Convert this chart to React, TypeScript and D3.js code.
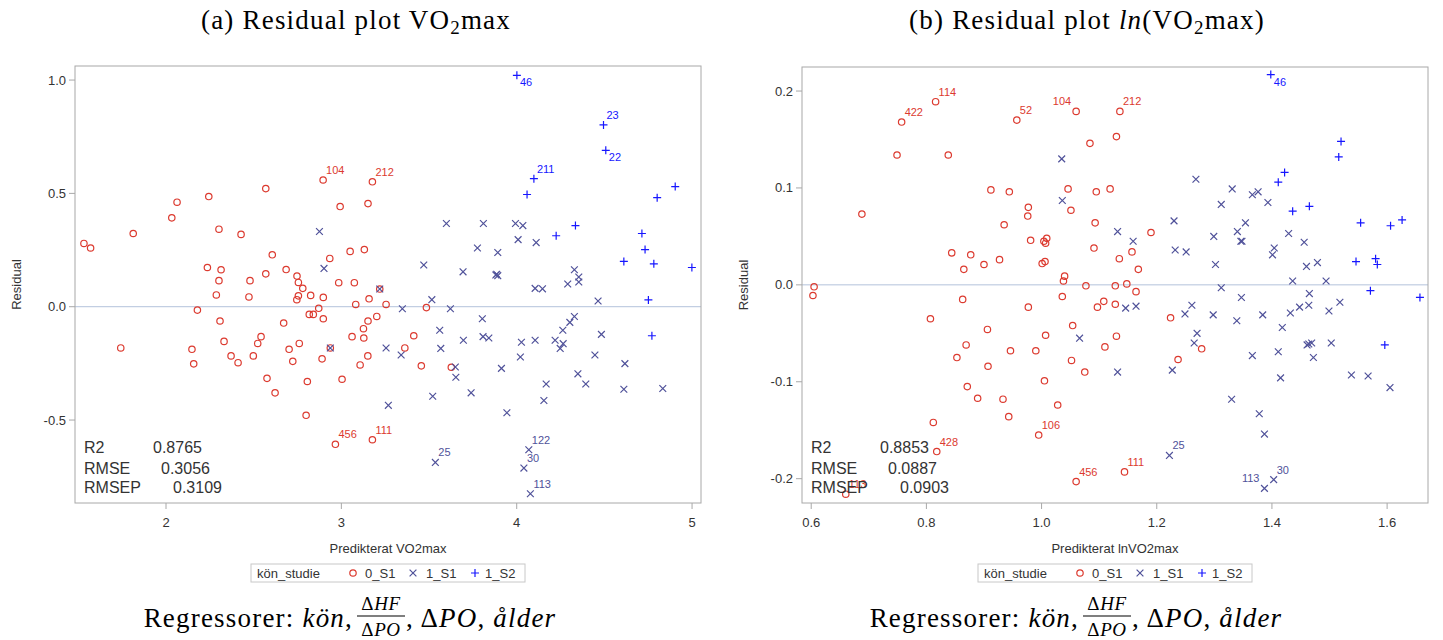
import React from "react";
import * as d3 from "d3";

// Predicted value vs. residual, one array per kön_studie group.
// Panel (a): VO2max
const vo2_0S1: [number, number][] = [
  [1.532, 0.279], [1.57, 0.259], [1.813, 0.323], [2.033, 0.392], [2.063, 0.461], [2.244, 0.486],
  [2.302, 0.342], [2.428, 0.319], [2.569, 0.521], [2.896, 0.559], [3.177, 0.551], [2.993, 0.442],
  [3.152, 0.455], [2.606, 0.229], [2.934, 0.213], [3.05, 0.244], [3.131, 0.252], [2.236, 0.173],
  [2.314, 0.163], [2.302, 0.115], [2.479, 0.115], [2.569, 0.145], [2.685, 0.164], [2.747, 0.135],
  [2.755, 0.107], [2.78, 0.081], [2.985, 0.106], [3.074, 0.106], [3.219, 0.078], [2.287, 0.052],
  [2.473, 0.043], [2.755, 0.048], [2.746, 0.031], [2.825, 0.05], [2.897, 0.041], [3.082, 0.01],
  [3.158, 0.035], [3.255, 0.01], [2.179, -0.015], [2.308, -0.063], [2.671, -0.072], [2.817, -0.034],
  [2.84, -0.034], [2.871, -0.007], [2.897, -0.053], [3.152, -0.063], [3.202, -0.043], [3.126, -0.097],
  [3.061, -0.132], [3.128, -0.138], [1.742, -0.182], [2.148, -0.188], [2.158, -0.252], [2.331, -0.153],
  [2.542, -0.132], [2.523, -0.162], [2.371, -0.217], [2.411, -0.247], [2.498, -0.217], [2.702, -0.188],
  [2.76, -0.162], [2.723, -0.241], [2.89, -0.23], [2.937, -0.182], [3.151, -0.217], [3.107, -0.257],
  [2.576, -0.316], [2.622, -0.38], [2.806, -0.33], [3.004, -0.32], [2.799, -0.479], [2.966, -0.607],
  [3.177, -0.587], [3.485, -0.004], [3.413, -0.128], [3.362, -0.182], [3.456, -0.261], [3.627, -0.267],
];
const vo2_1S1: [number, number][] = [
  [2.875, 0.332], [2.901, 0.169], [3.219, 0.078], [2.937, -0.182], [3.255, -0.182], [3.268, -0.435],
  [3.516, 0.031], [3.348, -0.009], [3.622, -0.009], [3.804, -0.053], [3.561, -0.104], [3.696, -0.148],
  [3.808, -0.132], [3.841, -0.138], [3.341, -0.213], [3.567, -0.184], [3.65, -0.266], [3.653, -0.311],
  [3.521, -0.395], [3.74, -0.38], [3.913, -0.272], [4.027, -0.157], [4.021, -0.222], [4.105, -0.148],
  [3.944, -0.468], [4.168, -0.341], [4.155, -0.414], [4.219, -0.148], [4.248, -0.184], [4.265, -0.163],
  [4.263, -0.104], [4.303, -0.069], [4.329, -0.043], [4.483, -0.122], [4.446, -0.213], [4.349, -0.296],
  [4.394, -0.341], [4.617, -0.251], [4.611, -0.364], [4.833, -0.361], [4.464, 0.025], [4.105, 0.081],
  [4.147, 0.079], [4.291, 0.1], [4.354, 0.109], [4.069, -0.631], [3.536, -0.687], [4.041, -0.712],
  [4.078, -0.825], [3.599, 0.367], [3.81, 0.367], [3.993, 0.367], [4.035, 0.358], [4.008, 0.296],
  [4.111, 0.283], [3.776, 0.259], [3.892, 0.239], [3.47, 0.184], [3.694, 0.154], [3.881, 0.14],
  [3.892, 0.137], [3.886, 0.143], [4.329, 0.163], [4.354, 0.131],
];
const vo2_1S2: [number, number][] = [
  [4.001, 1.021], [4.495, 0.802], [4.508, 0.69], [4.098, 0.565], [4.059, 0.495], [4.904, 0.53],
  [4.801, 0.481], [4.335, 0.358], [4.225, 0.313], [4.714, 0.323], [4.732, 0.252], [4.782, 0.189],
  [4.611, 0.2], [4.999, 0.173], [4.751, 0.03], [4.771, -0.128],
];

// Panel (b): ln(VO2max)
const ln_0S1: [number, number][] = [
  [0.816, 0.189], [0.757, 0.168], [0.957, 0.17], [1.06, 0.179], [0.749, 0.134], [0.838, 0.134],
  [1.084, 0.146], [0.688, 0.073], [0.912, 0.098], [0.944, 0.096], [1.046, 0.099], [1.095, 0.096],
  [1.119, 0.099], [0.977, 0.08], [0.976, 0.071], [1.051, 0.077], [0.935, 0.062], [1.093, 0.064],
  [0.981, 0.046], [1.004, 0.045], [1.009, 0.048], [1.007, 0.043], [1.091, 0.038], [0.844, 0.033],
  [0.877, 0.031], [0.927, 0.026], [0.9, 0.021], [0.865, 0.016], [1.001, 0.022], [1.006, 0.024],
  [1.04, 0.009], [1.038, 0.004], [1.077, -0.001], [0.605, -0.002], [0.603, -0.011], [0.863, -0.015],
  [1.036, -0.012], [1.108, -0.017], [1.097, -0.023], [0.977, -0.023], [0.807, -0.035], [0.906, -0.046],
  [1.054, -0.042], [0.869, -0.062], [1.007, -0.052], [0.853, -0.075], [0.946, -0.068], [0.99, -0.068],
  [1.11, -0.064], [0.907, -0.084], [1.052, -0.078], [1.075, -0.09], [0.871, -0.105], [1.005, -0.099],
  [0.889, -0.117], [0.933, -0.118], [1.028, -0.124], [0.943, -0.136], [0.812, -0.142], [0.995, -0.155],
  [0.818, -0.172], [1.06, -0.203], [0.66, -0.216], [1.136, 0.179], [1.13, 0.153], [1.19, 0.054],
  [1.135, 0.027], [1.157, 0.034], [1.168, 0.016], [1.128, -0.001], [1.148, 0.001], [1.164, -0.007],
  [1.128, -0.02], [1.224, -0.034], [1.13, -0.053], [1.278, -0.066], [1.237, -0.077], [1.144, -0.193],
];
const ln_1S1: [number, number][] = [
  [1.035, 0.13], [1.036, 0.087], [1.066, -0.055], [1.268, 0.109], [1.331, 0.099], [1.312, 0.083],
  [1.366, 0.093], [1.376, 0.096], [1.393, 0.085], [1.23, 0.066], [1.132, 0.055], [1.159, 0.045],
  [1.354, 0.064], [1.34, 0.055], [1.346, 0.045], [1.348, 0.045], [1.299, 0.05], [1.232, 0.036],
  [1.251, 0.034], [1.429, 0.053], [1.456, 0.044], [1.404, 0.038], [1.401, 0.031], [1.302, 0.021],
  [1.46, 0.019], [1.479, 0.023], [1.436, 0.004], [1.494, 0.004], [1.312, -0.003], [1.347, -0.013],
  [1.146, -0.024], [1.164, -0.022], [1.261, -0.021], [1.249, -0.03], [1.298, -0.031], [1.339, -0.037],
  [1.384, -0.031], [1.432, -0.029], [1.448, -0.023], [1.464, -0.021], [1.465, -0.009], [1.499, -0.027],
  [1.518, -0.018], [1.418, -0.044], [1.27, -0.05], [1.265, -0.06], [1.366, -0.073], [1.411, -0.069],
  [1.461, -0.062], [1.469, -0.06], [1.464, -0.061], [1.472, -0.075], [1.503, -0.06], [1.132, -0.09],
  [1.227, -0.088], [1.415, -0.096], [1.538, -0.093], [1.567, -0.094], [1.605, -0.106], [1.33, -0.118],
  [1.378, -0.133], [1.387, -0.154], [1.222, -0.176], [1.403, -0.201], [1.387, -0.21],
];
const ln_1S2: [number, number][] = [
  [1.398, 0.217], [1.52, 0.148], [1.516, 0.132], [1.422, 0.116], [1.411, 0.106], [1.436, 0.076],
  [1.465, 0.081], [1.554, 0.064], [1.606, 0.061], [1.626, 0.067], [1.546, 0.024], [1.58, 0.027],
  [1.583, 0.021], [1.571, -0.006], [1.657, -0.013], [1.596, -0.062],
];

// Tick values
const vo2XTicks = [2, 3, 4, 5];
const vo2YTicks = [-0.5, 0, 0.5, 1.0];
const lnXTicks = [0.6, 0.8, 1.0, 1.2, 1.4, 1.6];
const lnYTicks = [-0.2, -0.1, 0, 0.1, 0.2];

// Fit statistics shown in the inset
const vo2Stats: [string, string][] = [["R2", "0.8765"], ["RMSE", "0.3056"], ["RMSEP", "0.3109"]];
const lnStats: [string, string][] = [["R2", "0.8853"], ["RMSE", "0.0887"], ["RMSEP", "0.0903"]];

// Labelled observations: [group, index in that group's array, observation id]
const vo2Ids: [string, number, string][] = [
  ["0_S1", 9, "104"], ["0_S1", 10, "212"], ["0_S1", 71, "456"], ["0_S1", 72, "111"],
  ["1_S1", 45, "122"], ["1_S1", 46, "25"], ["1_S1", 47, "30"], ["1_S1", 48, "113"],
  ["1_S2", 0, "46"], ["1_S2", 1, "23"], ["1_S2", 2, "22"], ["1_S2", 3, "211"],
];
const lnIds: [string, number, string][] = [
  ["0_S1", 0, "114"], ["0_S1", 1, "422"], ["0_S1", 2, "52"], ["0_S1", 3, "104"],
  ["0_S1", 59, "106"], ["0_S1", 60, "428"], ["0_S1", 61, "456"], ["0_S1", 62, "113"],
  ["0_S1", 63, "212"], ["0_S1", 77, "111"],
  ["1_S1", 62, "25"], ["1_S1", 63, "30"], ["1_S1", 64, "113"],
  ["1_S2", 0, "46"],
];

const groups = ["0_S1", "1_S1", "1_S2"];

// ---- styling ----
const SANS = "'Liberation Sans', Arial, sans-serif";
const SERIF = "'Liberation Serif', 'Times New Roman', serif";
const groupColor: Record<string, string> = { "0_S1": "#dc3a2f", "1_S1": "#50529a", "1_S2": "#1616ff" };
const FRAME = "#a8a8a8";
const TEXT = "#333333";

// label placement around the marker: ne (default), se, nw
const labelSide: Record<string, string> = {
  "a:1_S2:46": "se", "a:1_S2:22": "se",
  "b:1_S2:46": "se", "b:0_S1:104": "nw", "b:1_S1:113": "nw",
};

function Marker({ group, x, y }: { group: string; x: number; y: number }) {
  const c = groupColor[group];
  if (group === "0_S1") {
    return <circle cx={x} cy={y} r={3.2} fill="none" stroke={c} strokeWidth={1.2} />;
  }
  if (group === "1_S1") {
    const h = 3.4;
    return (
      <path d={`M${x - h},${y - h}L${x + h},${y + h}M${x - h},${y + h}L${x + h},${y - h}`} stroke={c} strokeWidth={1.2} />
    );
  }
  const h = 4;
  return <path d={`M${x - h},${y}L${x + h},${y}M${x},${y - h}L${x},${y + h}`} stroke={c} strokeWidth={1.2} />;
}

type PanelProps = {
  id: string;
  frame: { x0: number; y0: number; x1: number; y1: number };
  xDomain: [number, number];
  yDomain: [number, number];
  xTicks: number[];
  yTicks: number[];
  xFmt: (v: number) => string;
  series: Record<string, [number, number][]>;
  ids: [string, number, string][];
  stats: [string, string][];
  xLabel: string;
};

function Panel(p: PanelProps) {
  const { x0, y0, x1, y1 } = p.frame;
  const x = d3.scaleLinear().domain(p.xDomain).range([x0, x1]);
  const y = d3.scaleLinear().domain(p.yDomain).range([y1, y0]);
  const cx = (x0 + x1) / 2;
  const cy = (y0 + y1) / 2;
  const statValX = [78, 86, 98];
  const statBase = [-50, -29, -10];
  const legL = cx - 137;
  const legT = 564;
  return (
    <g>
      {/* zero reference */}
      <line x1={x0} x2={x1} y1={y(0)} y2={y(0)} stroke="#b3c2db" strokeWidth={1} />
      {/* points */}
      {groups.map((g) =>
        p.series[g].map((d, i) => <Marker key={`${g}-${i}`} group={g} x={x(d[0])} y={y(d[1])} />)
      )}
      {/* observation labels */}
      {p.ids.map(([g, i, id]) => {
        const d = p.series[g][i];
        const side = labelSide[`${p.id}:${g}:${id}`] || "ne";
        const px = x(d[0]);
        const py = y(d[1]);
        const dx = side === "nw" ? -5 : 3;
        const dy = side === "se" ? 11 : -6;
        return (
          <text key={`${g}-${id}`} x={px + dx} y={py + dy} fontFamily={SANS} fontSize={11}
            fill={groupColor[g]} textAnchor={side === "nw" ? "end" : "start"}>{id}</text>
        );
      })}
      {/* inset statistics */}
      {p.stats.map(([k, v], i) => (
        <g key={k} fontFamily={SANS} fontSize={16} fill={TEXT}>
          <text x={x0 + 9} y={y1 + statBase[i]}>{k}</text>
          <text x={x0 + statValX[i]} y={y1 + statBase[i]}>{v}</text>
        </g>
      ))}
      {/* frame */}
      <rect x={x0} y={y0} width={x1 - x0} height={y1 - y0} fill="none" stroke={FRAME} strokeWidth={1} />
      {/* y axis */}
      {p.yTicks.map((t) => (
        <g key={`y${t}`}>
          <line x1={x0 - 6} x2={x0} y1={y(t)} y2={y(t)} stroke={FRAME} />
          <text x={x0 - 9} y={y(t) + 4.5} textAnchor="end" fontFamily={SANS} fontSize={13} fill={TEXT}>
            {t.toFixed(1)}
          </text>
        </g>
      ))}
      <text transform={`translate(${x0 - 54},${cy}) rotate(-90)`} textAnchor="middle" fontFamily={SANS}
        fontSize={13} fill={TEXT}>Residual</text>
      {/* x axis */}
      {p.xTicks.map((t) => (
        <g key={`x${t}`}>
          <line x1={x(t)} x2={x(t)} y1={y1} y2={y1 + 6} stroke={FRAME} />
          <text x={x(t)} y={y1 + 24} textAnchor="middle" fontFamily={SANS} fontSize={13} fill={TEXT}>
            {p.xFmt(t)}
          </text>
        </g>
      ))}
      <text x={cx} y={y1 + 50} textAnchor="middle" fontFamily={SANS} fontSize={13} fill={TEXT}>{p.xLabel}</text>
      {/* legend */}
      <g fontFamily={SANS} fontSize={13} fill={TEXT}>
        <rect x={legL} y={legT} width={274} height={18} fill="none" stroke="#c8c8c8" />
        <text x={legL + 6} y={legT + 14}>kön_studie</text>
        <Marker group="0_S1" x={legL + 102} y={legT + 9} />
        <text x={legL + 114} y={legT + 14}>0_S1</text>
        <Marker group="1_S1" x={legL + 162} y={legT + 9} />
        <text x={legL + 175} y={legT + 14}>1_S1</text>
        <Marker group="1_S2" x={legL + 224} y={legT + 9} />
        <text x={legL + 234} y={legT + 14}>1_S2</text>
      </g>
    </g>
  );
}

// "Regressorer: kön, ΔHF/ΔPO, ΔPO, ålder" with a stacked fraction
function Caption({ fracX }: { fracX: number }) {
  const base = 627;
  return (
    <g fontFamily={SERIF} fontSize={27} fill="#000" letterSpacing={1.2}>
      <text x={fracX - 28} y={base} textAnchor="end">
        Regressorer: <tspan fontStyle="italic">kön</tspan>,
      </text>
      <text x={fracX} y={610} textAnchor="middle" fontSize={19} letterSpacing={0.6}>
        Δ<tspan fontStyle="italic">HF</tspan>
      </text>
      <line x1={fracX - 24} x2={fracX + 24} y1={616} y2={616} stroke="#000" strokeWidth={1.1} />
      <text x={fracX} y={636} textAnchor="middle" fontSize={19} letterSpacing={0.6}>
        Δ<tspan fontStyle="italic">PO</tspan>
      </text>
      <text x={fracX + 25} y={base}>
        , Δ<tspan fontStyle="italic">PO</tspan>, <tspan fontStyle="italic">ålder</tspan>
      </text>
    </g>
  );
}

export default function App() {
  return (
    <svg width={1443} height={640} style={{ position: "absolute", left: 0, top: 0, background: "#fff" }}>
      <g fontFamily={SERIF} fontSize={27} fill="#000" textAnchor="middle" letterSpacing={1.2}>
        <text x={356} y={29}>
          (a) Residual plot VO<tspan fontSize={19} dy={5}>2</tspan><tspan dy={-5}>max</tspan>
        </text>
        <text x={1087} y={29}>
          (b) Residual plot <tspan fontStyle="italic">ln</tspan>(VO<tspan fontSize={19} dy={5}>2</tspan>
          <tspan dy={-5}>max)</tspan>
        </text>
      </g>
      <Panel
        id="a"
        frame={{ x0: 75, y0: 66, x1: 701, y1: 503 }}
        xDomain={[1.481, 5.051]}
        yDomain={[-0.866, 1.062]}
        xTicks={vo2XTicks}
        yTicks={vo2YTicks}
        xFmt={(v) => String(v)}
        series={{ "0_S1": vo2_0S1, "1_S1": vo2_1S1, "1_S2": vo2_1S2 }}
        ids={vo2Ids}
        stats={vo2Stats}
        xLabel="Predikterat VO2max"
      />
      <Panel
        id="b"
        frame={{ x0: 802, y0: 67, x1: 1428, y1: 503 }}
        xDomain={[0.584, 1.671]}
        yDomain={[-0.2251, 0.2248]}
        xTicks={lnXTicks}
        yTicks={lnYTicks}
        xFmt={(v) => v.toFixed(1)}
        series={{ "0_S1": ln_0S1, "1_S1": ln_1S1, "1_S2": ln_1S2 }}
        ids={lnIds}
        stats={lnStats}
        xLabel="Predikterat lnVO2max"
      />
      <Caption fracX={381} />
      <Caption fracX={1107} />
    </svg>
  );
}
